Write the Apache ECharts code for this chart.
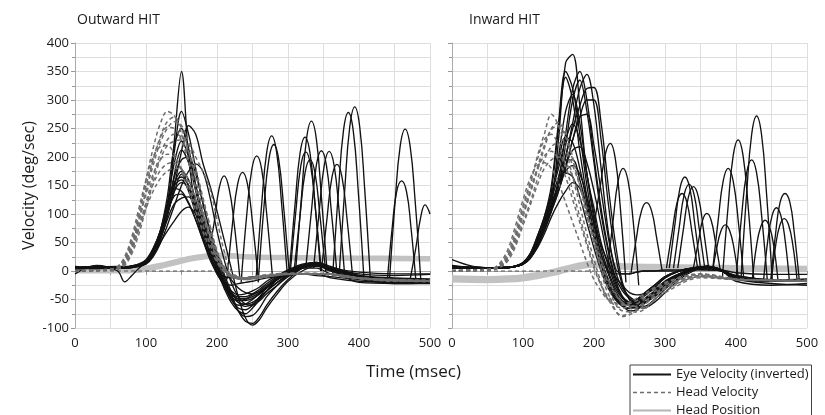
<!DOCTYPE html>
<html>
<head>
<meta charset="utf-8">
<script src="https://cdn.jsdelivr.net/npm/echarts@6/dist/echarts.min.js"></script>
<style>
html, body { margin: 0; padding: 0; background: #fff; }
#chart { width: 825px; height: 415px; }
</style>
</head>
<body>
<div id="chart"></div>
<script>
"use strict";
// sample times (msec) shared by the traces of one kind
var eyeTimes = [0, 30, 60, 70, 80, 90, 100, 110, 120, 130, 140, 150, 160, 170, 180, 190,
    200, 210, 220, 230, 240, 250, 260, 270, 285, 300, 320, 340, 360, 400, 450, 500];
var eyeTimesIn = [0, 30, 60, 80, 90, 100, 110, 120, 130, 140, 150, 160, 170, 180, 190,
    200, 210, 220, 230, 240, 250, 260, 270, 285, 300, 320, 340, 360, 380, 400, 450, 500];
var headTimes = [0, 30, 50, 60, 70, 80, 90, 100, 110, 120, 130, 140, 150, 160, 170,
    180, 190, 200, 210, 220, 240, 260, 300, 350, 400, 450, 500];
var xTicks = [0, 100, 200, 300, 400, 500];
var yTicks = [-100, -50, 0, 50, 100, 150, 200, 250, 300, 350, 400];

// Outward HIT - eye velocity (inverted)
var eyeOutward = [
    [5, 8, 6, 7, 8, 10, 15, 30, 55, 100, 230, 350, 200, 110, 60, 25, 0, -30, -55, -70, -75, -65, -50, -35, -15, -5, 5, 5, -5, -12, -15, -15],
    [3, 6, 5, 6, 8, 12, 18, 35, 60, 110, 210, 280, 240, 180, 120, 70, 25, -10, -40, -70, -88, -92, -80, -60, -35, -15, 5, 10, 0, -14, -22, -21],
    [6, 8, 6, 6, 7, 10, 15, 30, 55, 95, 150, 210, 255, 240, 190, 150, 105, 55, 5, -45, -82, -95, -85, -65, -40, -18, 0, 8, 2, -10, -15, -15],
    [4, 7, 8, 8, 9, 12, 20, 40, 70, 120, 190, 228, 200, 150, 100, 55, 15, -20, -50, -65, -68, -60, -45, -30, -15, -5, 8, 12, 5, -5, -8, -6],
    [7, 5, 6, 5, 6, 9, 14, 28, 55, 100, 170, 212, 190, 140, 90, 45, 10, -25, -50, -60, -58, -50, -40, -28, -12, 0, 10, 12, 3, -10, -15, -16],
    [5, 7, 5, 5, 6, 8, 12, 25, 48, 80, 115, 150, 175, 188, 175, 130, 70, 20, -20, -45, -58, -60, -52, -40, -25, -10, 5, 15, 8, -8, -14, -16],
    [8, 6, 7, 7, 8, 11, 18, 38, 70, 115, 155, 175, 160, 125, 80, 40, 5, -25, -45, -52, -50, -45, -38, -28, -15, -3, 10, 15, 5, -20, -22, -22],
    [4, 5, 5, 6, 7, 10, 16, 35, 65, 110, 155, 165, 150, 115, 75, 35, 5, -20, -38, -45, -45, -40, -32, -22, -10, 0, 10, 12, 3, -8, -14, -15],
    [6, 7, 6, 7, 8, 10, 16, 32, 60, 100, 140, 155, 145, 115, 75, 40, 8, -20, -40, -50, -52, -48, -40, -30, -15, -3, 8, 12, 5, -10, -15, -18],
    [5, 6, 5, 6, 7, 9, 15, 33, 65, 110, 145, 140, 120, 90, 55, 25, 0, -20, -35, -42, -40, -35, -28, -18, -8, 2, 12, 15, 6, -2, -5, -5],
    [5, 4, 5, 5, 6, 8, 14, 30, 58, 100, 132, 135, 118, 90, 55, 20, -5, -25, -40, -48, -48, -42, -35, -25, -12, -2, 8, 12, 5, -8, -14, -16],
    [6, 7, 6, 7, 8, 10, 15, 30, 55, 90, 118, 128, 130, 110, 70, 30, 0, -25, -45, -55, -58, -55, -46, -35, -20, -6, 6, 10, 4, -10, -16, -18],
    [-5, 10, 0, -19, -8, 5, 15, 30, 50, 70, 88, 105, 112, 100, 80, 55, 30, 5, -15, -30, -38, -40, -36, -28, -15, -5, 5, 10, 3, -8, -12, -14],
    [6, 5, 7, 7, 8, 10, 15, 32, 60, 105, 165, 195, 200, 170, 120, 70, 30, -5, -35, -55, -62, -58, -48, -35, -20, -8, 5, 10, 2, -10, -15, -17],
    [5, 7, 6, 7, 9, 12, 18, 38, 70, 130, 220, 250, 215, 150, 95, 50, 15, -15, -45, -70, -80, -78, -65, -45, -25, -8, 5, 10, 2, -10, -16, -18],
    [5, 6, 6, 7, 8, 10, 16, 35, 62, 105, 150, 160, 140, 100, 60, 25, 0, -10, -12, -12, -12, -10, -10, -8, -8, -5, -5, -8, -10, -15, -18, -18],
    [6, 5, 6, 6, 7, 9, 14, 30, 58, 100, 140, 170, 150, 110, 70, 30, -5, -20, -25, -22, -20, -18, -15, -12, -10, -8, -5, -5, -12, -18, -20, -20]
];

// Inward HIT - eye velocity (inverted)
var eyeInward = [
    [10, 6, 5, 6, 8, 12, 25, 50, 80, 115, 230, 365, 380, 290, 170, 110, 50, 10, -25, -45, -55, -50, -40, -25, -10, 0, 5, 5, 0, -14, -22, -25],
    [8, 7, 5, 6, 8, 14, 30, 60, 95, 150, 260, 350, 320, 240, 150, 80, 30, -5, -35, -52, -58, -52, -40, -25, -10, 0, 5, 5, 0, -12, -16, -15],
    [6, 5, 6, 7, 9, 15, 28, 50, 80, 115, 160, 240, 320, 350, 300, 200, 110, 40, -10, -35, -48, -55, -55, -45, -28, -8, 5, 8, 2, -10, -18, -16],
    [5, 6, 5, 6, 8, 12, 22, 45, 75, 110, 150, 220, 300, 335, 280, 190, 100, 35, -15, -45, -62, -65, -58, -40, -20, -5, 5, 8, 0, -12, -18, -15],
    [7, 5, 6, 7, 9, 14, 26, 48, 78, 112, 150, 200, 250, 290, 320, 322, 260, 150, 50, -20, -50, -62, -62, -50, -32, -12, 2, 8, 2, -10, -16, -14],
    [5, 6, 6, 7, 9, 13, 24, 45, 72, 105, 140, 185, 230, 270, 300, 300, 230, 120, 30, -25, -50, -62, -65, -55, -38, -15, 0, 8, 0, -12, -18, -16],
    [6, 7, 5, 6, 8, 12, 24, 48, 85, 140, 250, 340, 300, 210, 130, 70, 20, -15, -40, -55, -60, -55, -45, -30, -12, 0, 5, 5, 0, -12, -17, -15],
    [5, 6, 6, 6, 8, 12, 22, 42, 70, 105, 140, 180, 230, 270, 275, 220, 140, 60, 0, -30, -45, -52, -50, -42, -25, -8, 5, 8, 2, -3, -6, -6],
    [8, 6, 5, 6, 9, 15, 30, 60, 95, 135, 180, 230, 258, 230, 170, 100, 40, 0, -30, -48, -55, -52, -42, -28, -12, 0, 6, 8, 2, -10, -18, -16],
    [6, 5, 6, 7, 9, 14, 28, 55, 90, 130, 190, 235, 225, 180, 120, 60, 10, -25, -48, -60, -65, -60, -50, -35, -18, -5, 5, 8, 0, -12, -18, -17],
    [5, 6, 5, 6, 8, 12, 24, 45, 75, 110, 150, 185, 212, 218, 190, 140, 80, 20, -20, -45, -55, -58, -55, -45, -28, -8, 3, 6, 0, -12, -18, -16],
    [7, 6, 6, 7, 9, 14, 27, 52, 85, 125, 165, 195, 195, 160, 110, 60, 15, -20, -45, -60, -70, -68, -58, -42, -22, -8, 3, 8, 0, -18, -25, -22],
    [6, 5, 5, 6, 8, 12, 25, 50, 80, 115, 150, 172, 165, 130, 85, 40, 0, -30, -50, -62, -66, -62, -52, -38, -20, -6, 4, 8, 2, -10, -17, -16],
    [20, 8, 5, 6, 8, 12, 22, 40, 65, 95, 120, 140, 155, 145, 110, 65, 20, -15, -40, -55, -60, -58, -50, -36, -18, -5, 5, 8, 2, -12, -18, -17],
    [6, 5, 6, 6, 8, 12, 25, 50, 85, 130, 200, 280, 310, 260, 170, 90, 30, 0, -5, -5, -5, -2, 0, 0, 0, 0, 2, 2, 0, -8, -15, -15],
    [5, 6, 5, 6, 8, 13, 24, 45, 75, 110, 150, 200, 260, 320, 345, 290, 180, 70, 5, -5, -5, -2, 0, 0, 2, 2, 3, 2, 0, -8, -15, -15],
    [6, 6, 5, 6, 8, 13, 26, 50, 82, 118, 150, 175, 185, 170, 130, 85, 45, 15, -10, -25, -38, -42, -40, -32, -20, -8, 2, 6, 0, -12, -18, -16]
];

// head velocity (dashed)
var headOutward = [
    [0, 2, 3, 6, 20, 50, 100, 160, 215, 258, 280, 272, 240, 195, 145, 100, 58, 22, 0, -10, -15, -12, -5, -5, -12, -18, -18],
    [1, 2, 2, 5, 15, 40, 85, 140, 195, 235, 262, 270, 250, 210, 160, 110, 65, 28, 5, -8, -14, -10, -5, -4, -12, -16, -18],
    [0, 1, 3, 7, 22, 55, 100, 150, 195, 232, 252, 250, 228, 190, 145, 100, 60, 25, 2, -10, -12, -8, -4, -6, -14, -17, -18],
    [-1, 1, 2, 4, 12, 35, 75, 120, 165, 205, 230, 240, 235, 210, 170, 125, 80, 35, 8, -6, -12, -10, -5, -5, -12, -15, -16],
    [0, 1, 2, 3, 10, 30, 65, 110, 155, 195, 220, 228, 230, 225, 200, 175, 145, 90, 35, 0, -15, -12, -6, -5, -13, -17, -19],
    [1, 2, 3, 8, 25, 60, 110, 160, 200, 218, 220, 205, 175, 140, 105, 70, 40, 15, -2, -10, -12, -10, -5, -5, -12, -16, -18],
    [0, 1, 2, 5, 18, 45, 90, 135, 170, 195, 205, 200, 180, 150, 115, 80, 48, 18, 0, -8, -12, -9, -4, -5, -13, -16, -17],
    [0, 1, 2, 4, 14, 38, 78, 118, 152, 176, 188, 190, 178, 155, 125, 92, 58, 24, 3, -7, -12, -10, -5, -5, -12, -15, -17],
    [0, 2, 3, 5, 16, 40, 75, 110, 140, 162, 175, 180, 178, 160, 130, 100, 68, 32, 6, -6, -12, -9, -5, -5, -12, -16, -18],
    [1, 1, 2, 4, 14, 42, 90, 140, 185, 225, 250, 262, 255, 225, 180, 130, 80, 35, 5, -10, -15, -12, -6, -5, -13, -17, -18]
];
var headInward = [
    [0, 1, 2, 4, 12, 30, 65, 110, 150, 200, 240, 275, 255, 215, 165, 115, 65, 20, -20, -50, -78, -65, -28, -8, -15, -16, -17],
    [0, 1, 2, 4, 10, 28, 60, 100, 140, 180, 220, 248, 255, 235, 195, 150, 100, 50, 5, -30, -70, -72, -35, -10, -15, -17, -18],
    [1, 2, 3, 5, 15, 35, 72, 115, 155, 195, 230, 240, 220, 185, 140, 95, 50, 10, -25, -50, -65, -58, -25, -6, -14, -16, -16],
    [0, 1, 2, 3, 9, 24, 50, 85, 120, 160, 195, 218, 225, 215, 185, 150, 110, 65, 20, -15, -55, -68, -38, -12, -15, -17, -18],
    [0, 1, 2, 4, 12, 30, 62, 100, 140, 178, 202, 210, 195, 165, 125, 85, 45, 5, -25, -45, -60, -52, -22, -6, -14, -16, -17],
    [0, 1, 1, 3, 8, 20, 45, 80, 115, 150, 180, 195, 200, 190, 165, 130, 95, 55, 15, -20, -55, -62, -32, -10, -15, -16, -18],
    [1, 2, 3, 6, 18, 42, 82, 125, 162, 185, 190, 180, 155, 120, 85, 50, 15, -15, -35, -50, -58, -48, -20, -5, -14, -16, -17],
    [0, 1, 2, 3, 10, 25, 55, 95, 135, 175, 215, 250, 260, 240, 200, 150, 100, 50, 0, -40, -80, -70, -30, -8, -15, -17, -18]
];

// head position (thick grey)
var posOutward = [
    [[0, 2], [60, 2], [90, 3], [100, 5], [120, 10], [140, 16], [160, 22], [180, 26], [200, 28], [220, 27], [250, 25], [300, 24], [400, 23], [500, 22]],
    [[0, 0], [60, 0], [90, 1], [100, 3], [120, 8], [140, 14], [160, 20], [180, 24], [200, 26], [220, 26], [250, 24], [300, 23], [400, 22], [500, 21]]
];
var posInward = [
    [[0, -12], [50, -13], [80, -12], [100, -10], [120, -6], [140, -1], [160, 5], [180, 11], [200, 14], [220, 12], [250, 9], [300, 8], [400, 6], [500, 5]],
    [[0, -16], [50, -17], [80, -16], [100, -14], [120, -10], [140, -5], [160, 1], [180, 7], [200, 10], [220, 9], [250, 6], [300, 5], [400, 3], [500, 2]]
];
var zeroLine = [[0, 0], [200, 0]];

// catch-up saccades, read one by one
var saccOutward = [
    [[188, 30], [196, 85], [203, 145], [210, 167], [217, 145], [224, 85], [232, -10]],
    [[214, -15], [222, 85], [229, 152], [236, 173], [243, 152], [250, 85], [258, -12]],
    [[234, -20], [242, 100], [249, 178], [256, 202], [263, 178], [270, 100], [278, -8]],
    [[255, -15], [263, 118], [270, 208], [277, 237], [284, 208], [291, 118], [299, -5]],
    [[258, -20], [266, 110], [273, 195], [280, 222], [287, 195], [294, 110], [302, -5]],
    [[302, 0], [310, 118], [317, 207], [324, 235], [331, 207], [338, 118], [346, 0]],
    [[311, 5], [319, 130], [326, 231], [333, 263], [340, 231], [347, 130], [355, 0]],
    [[303, -5], [311, 104], [318, 184], [325, 209], [332, 184], [339, 104], [347, 0]],
    [[309, 5], [317, 97], [324, 172], [331, 195], [338, 172], [345, 97], [353, 0]],
    [[325, 5], [333, 105], [340, 186], [347, 211], [354, 186], [361, 105], [369, -5]],
    [[336, 5], [344, 105], [351, 185], [358, 210], [365, 185], [372, 105], [380, -10]],
    [[347, 0], [355, 93], [362, 165], [369, 187], [376, 165], [383, 93], [391, -10]],
    [[363, -5], [371, 139], [378, 245], [385, 278], [392, 245], [399, 139], [407, -15]],
    [[372, -8], [380, 144], [387, 253], [394, 288], [401, 253], [408, 144], [416, -15]],
    [[440, -15], [447, 79], [453, 139], [460, 158], [467, 139], [473, 79], [480, -15]],
    [[443, -15], [451, 124], [458, 219], [465, 249], [472, 219], [479, 124], [487, -15]],
    [[472, -15], [480, 40], [487, 95], [493, 116], [500, 100]]
];
var saccInward = [
    [[200, 80], [209, 150], [216, 205], [223, 224], [230, 197], [237, 112], [245, -20]],
    [[219, 0], [227, 90], [234, 158], [241, 180], [248, 158], [255, 90], [263, -25]],
    [[252, -5], [260, 60], [267, 106], [274, 120], [281, 106], [288, 60], [296, 0]],
    [[302, 5], [310, 68], [317, 120], [324, 136], [331, 120], [338, 68], [346, 5]],
    [[306, 5], [314, 82], [321, 145], [328, 165], [335, 145], [342, 82], [350, 5]],
    [[312, 5], [320, 76], [327, 134], [334, 152], [341, 134], [348, 76], [356, 5]],
    [[318, 5], [326, 74], [333, 130], [340, 148], [347, 130], [354, 74], [362, 0]],
    [[340, 5], [347, 51], [353, 89], [359, 101], [365, 89], [371, 51], [378, 0]],
    [[367, 0], [373, 41], [379, 71], [385, 81], [391, 71], [397, 41], [403, -10]],
    [[367, 0], [375, 90], [382, 158], [389, 180], [396, 158], [403, 90], [411, -15]],
    [[381, -10], [389, 115], [396, 202], [403, 230], [410, 202], [417, 115], [425, -15]],
    [[400, -15], [408, 98], [415, 172], [422, 195], [429, 172], [436, 98], [444, -15]],
    [[407, -15], [415, 136], [422, 239], [429, 272], [436, 239], [443, 136], [451, -15]],
    [[423, -15], [429, 45], [435, 78], [441, 89], [447, 78], [453, 45], [459, -15]],
    [[439, -15], [445, 56], [451, 98], [457, 111], [463, 98], [469, 56], [475, -15]],
    [[450, -15], [456, 46], [462, 81], [468, 92], [474, 81], [480, 46], [486, -15]],
    [[449, -15], [456, 68], [462, 120], [469, 136], [476, 120], [482, 68], [489, -15]]
];

var FONT = "Open Sans";
var EYE = "Eye Velocity (inverted)";
var HEAD = "Head Velocity";
var POS = "Head Position";

function pairs(times, vals) {
    var out = [];
    for (var i = 0; i < times.length; i++) out.push([times[i], vals[i]]);
    return out;
}

function line(name, data, idx, style, z, smooth) {
    return {
        name: name,
        type: "line",
        xAxisIndex: idx,
        yAxisIndex: idx,
        data: data,
        symbol: "none",
        smooth: smooth,
        silent: true,
        z: z,
        itemStyle: { color: style.color },
        lineStyle: style
    };
}

var eyeStyle = { color: "#121212", width: 1.35 };
var headStyle = { color: "#6e6e6e", width: 1.5, type: [4, 3] };
var posStyle = { color: "#c2c2c2", width: 5 };
var zeroStyle = { color: "#555", width: 1, type: [4, 3] };

var series = [];
function addPanel(idx, eye, eyeT, head, pos, sacc) {
    var i;
    for (i = 0; i < pos.length; i++) series.push(line(POS, pos[i], idx, posStyle, 1, 0.4));
    series.push(line("zero", zeroLine, idx, zeroStyle, 2, false));
    for (i = 0; i < eye.length; i++) series.push(line(EYE, pairs(eyeT, eye[i]), idx, eyeStyle, 3, 0.35));
    for (i = 0; i < sacc.length; i++) series.push(line(EYE, sacc[i], idx, eyeStyle, 3, 0.45));
    for (i = 0; i < head.length; i++) series.push(line(HEAD, pairs(headTimes, head[i]), idx, headStyle, 4, 0.35));
}
// legend takes its icon from the first series with a name, so these go first
series.push(line(EYE, [], 0, eyeStyle, 3, false));
series.push(line(HEAD, [], 0, headStyle, 4, false));
series.push(line(POS, [], 0, posStyle, 1, false));
addPanel(0, eyeOutward, eyeTimes, headOutward, posOutward, saccOutward);
addPanel(1, eyeInward, eyeTimesIn, headInward, posInward, saccInward);

var gridLine = { show: true, lineStyle: { color: "#dedede", width: 1 } };

function xAxis(idx) {
    return {
        type: "value", gridIndex: idx, min: xTicks[0], max: xTicks[xTicks.length - 1], interval: 100,
        axisLine: { lineStyle: { color: "#aaa" } },
        axisTick: { show: true, length: 4, lineStyle: { color: "#999" } },
        minorTick: { show: true, splitNumber: 2, length: 4, lineStyle: { color: "#999" } },
        splitLine: gridLine,
        minorSplitLine: gridLine,
        axisLabel: { color: "#1a1a1a", fontSize: 13, fontFamily: FONT, margin: 9 }
    };
}
function yAxis(idx, labels) {
    return {
        type: "value", gridIndex: idx, min: yTicks[0], max: yTicks[yTicks.length - 1], interval: 50,
        axisLine: { show: true, lineStyle: { color: "#aaa" } },
        axisTick: { show: true, length: 4, lineStyle: { color: "#999" } },
        minorTick: { show: true, splitNumber: 2, length: 3, lineStyle: { color: "#999" } },
        splitLine: gridLine,
        minorSplitLine: gridLine,
        axisLabel: { show: labels, color: "#1a1a1a", fontSize: 13, fontFamily: FONT, margin: 6 },
        name: labels ? "Velocity (deg/sec)" : "",
        nameLocation: "middle",
        nameGap: 38,
        nameTextStyle: { color: "#1a1a1a", fontSize: 16, fontFamily: FONT }
    };
}

var hidden = { color: "rgba(0,0,0,0)", borderWidth: 0, opacity: 0 };

var chart = echarts.init(document.getElementById("chart"), null, { renderer: "canvas" });
chart.setOption({
    animation: false,
    backgroundColor: "#fff",
    title: [
        { text: "Outward HIT", left: 72, top: 8, textStyle: { fontSize: 14, fontWeight: "normal", color: "#1a1a1a", fontFamily: FONT } },
        { text: "Inward HIT", left: 464, top: 8, textStyle: { fontSize: 14, fontWeight: "normal", color: "#1a1a1a", fontFamily: FONT } }
    ],
    grid: [
        { left: 75, top: 43, width: 355, height: 285 },
        { left: 452, top: 43, width: 355, height: 285 }
    ],
    xAxis: [xAxis(0), xAxis(1)],
    yAxis: [yAxis(0, true), yAxis(1, false)],
    legend: {
        orient: "vertical",
        left: 630,
        top: 365,
        height: 70,
        itemWidth: 38,
        itemHeight: 14,
        itemGap: 5,
        padding: [3, 3, 3, 2],
        borderColor: "#444",
        borderWidth: 1,
        backgroundColor: "#fff",
        selectedMode: false,
        itemStyle: hidden,
        textStyle: { color: "#1a1a1a", fontSize: 13, fontFamily: FONT },
        data: [
            { name: EYE, itemStyle: hidden, lineStyle: { color: "#141414", width: 2 } },
            { name: HEAD, itemStyle: hidden, lineStyle: { color: "#6e6e6e", width: 1.5, type: [4, 3] } },
            { name: POS, itemStyle: hidden, lineStyle: { color: "#b5b5b5", width: 2 } }
        ]
    },
    graphic: [
        { type: "text", left: 366, top: 364, style: { text: "Time (msec)", fontSize: 17, fontFamily: FONT, fill: "#1a1a1a" } }
    ],
    series: series
});
</script>
</body>
</html>
